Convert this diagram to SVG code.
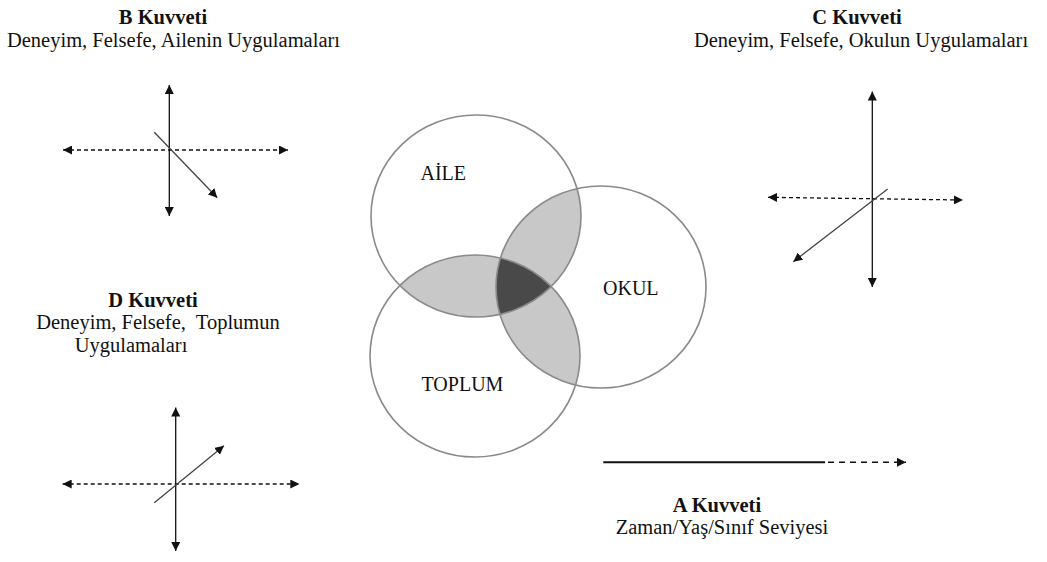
<svg xmlns="http://www.w3.org/2000/svg" width="1047" height="562" viewBox="0 0 1047 562">
<style>
text{font-family:"Liberation Serif","Times New Roman",serif;fill:#111;}
.t{font-size:20.5px;text-anchor:middle;}
.b{font-weight:bold;}
.lbl{font-size:20px;}
.ax{stroke:#111;stroke-width:1.3;fill:none;}
.dash{stroke:#111;stroke-width:1.3;fill:none;stroke-dasharray:4 3;}
.diag{stroke:#444;stroke-width:1.3;fill:none;}
.ring{fill:none;stroke:#8a8a8a;stroke-width:1.6;}
.light{fill:#c8c8c8;}
.dark{fill:#494949;}
</style>
<defs>
<marker id="ah" viewBox="0 0 10 10" refX="10" refY="5" markerWidth="9" markerHeight="9" markerUnits="userSpaceOnUse" orient="auto-start-reverse">
<path d="M0,0 L10,5 L0,10 z" fill="#111"/>
</marker>
<clipPath id="cA"><ellipse cx="476" cy="216" rx="105" ry="101"/></clipPath>
<clipPath id="cO"><ellipse cx="601" cy="287" rx="105" ry="101"/></clipPath>
<clipPath id="cT"><ellipse cx="475" cy="356" rx="105" ry="101"/></clipPath>
</defs>
<rect width="1047" height="562" fill="#fff"/>

<g id="overlaps">
<g clip-path="url(#cA)">
<ellipse class="light" cx="601" cy="287" rx="105" ry="101"/>
<ellipse class="light" cx="475" cy="356" rx="105" ry="101"/>
</g>
<g clip-path="url(#cO)">
<ellipse class="light" cx="475" cy="356" rx="105" ry="101"/>
</g>
<g clip-path="url(#cA)"><g clip-path="url(#cO)">
<ellipse class="dark" cx="475" cy="356" rx="105" ry="101"/>
</g></g>
</g>

<g id="aile">
<ellipse class="ring" cx="476" cy="216" rx="105" ry="101"/>
<text class="lbl" x="420.5" y="179.5">AİLE</text>
</g>
<g id="okul">
<ellipse class="ring" cx="601" cy="287" rx="105" ry="101"/>
<text class="lbl" x="603" y="294.5">OKUL</text>
</g>
<g id="toplum">
<ellipse class="ring" cx="475" cy="356" rx="105" ry="101"/>
<text class="lbl" x="421.5" y="391">TOPLUM</text>
</g>

<g id="b-kuvveti">
<text class="t b" x="163" y="24">B Kuvveti</text>
<text class="t" x="173.5" y="47">Deneyim, Felsefe, Ailenin Uygulamaları</text>
</g>
<g id="c-kuvveti">
<text class="t b" x="857" y="24">C Kuvveti</text>
<text class="t" x="861" y="47">Deneyim, Felsefe, Okulun Uygulamaları</text>
</g>
<g id="d-kuvveti">
<text class="t b" x="153" y="307">D Kuvveti</text>
<text class="t" x="158" y="329" xml:space="preserve">Deneyim, Felsefe,  Toplumun</text>
<text class="t" x="131" y="352">Uygulamaları</text>
</g>
<g id="a-kuvveti">
<text class="t b" x="717" y="512">A Kuvveti</text>
<text class="t" x="722" y="534">Zaman/Yaş/Sınıf Seviyesi</text>
</g>

<g id="connectors">
<!-- B axes -->
<line class="ax" x1="169.3" y1="85" x2="169.3" y2="216" marker-start="url(#ah)" marker-end="url(#ah)"/>
<line class="dash" x1="63" y1="150" x2="288" y2="150" marker-start="url(#ah)" marker-end="url(#ah)"/>
<line class="diag" x1="154.3" y1="132.3" x2="217.3" y2="197.7" marker-end="url(#ah)"/>
<!-- C axes -->
<line class="ax" x1="872.3" y1="91.5" x2="872.3" y2="287" marker-start="url(#ah)" marker-end="url(#ah)"/>
<line class="dash" x1="768" y1="197.3" x2="963" y2="200" marker-start="url(#ah)" marker-end="url(#ah)"/>
<line class="diag" x1="887.7" y1="189" x2="793.3" y2="261.7" marker-end="url(#ah)"/>
<!-- D axes -->
<line class="ax" x1="175.7" y1="407.5" x2="175.7" y2="551" marker-start="url(#ah)" marker-end="url(#ah)"/>
<line class="dash" x1="62.7" y1="484" x2="299.3" y2="484" marker-start="url(#ah)" marker-end="url(#ah)"/>
<line class="diag" x1="154.3" y1="502.7" x2="224" y2="445.7" marker-end="url(#ah)"/>
<!-- A arrow -->
<line x1="603.3" y1="462.3" x2="825" y2="462.3" stroke="#111" stroke-width="2"/>
<line x1="828" y1="462.3" x2="906" y2="462.3" stroke="#111" stroke-width="1.6" stroke-dasharray="6 5" marker-end="url(#ah)"/>
</g>
</svg>
